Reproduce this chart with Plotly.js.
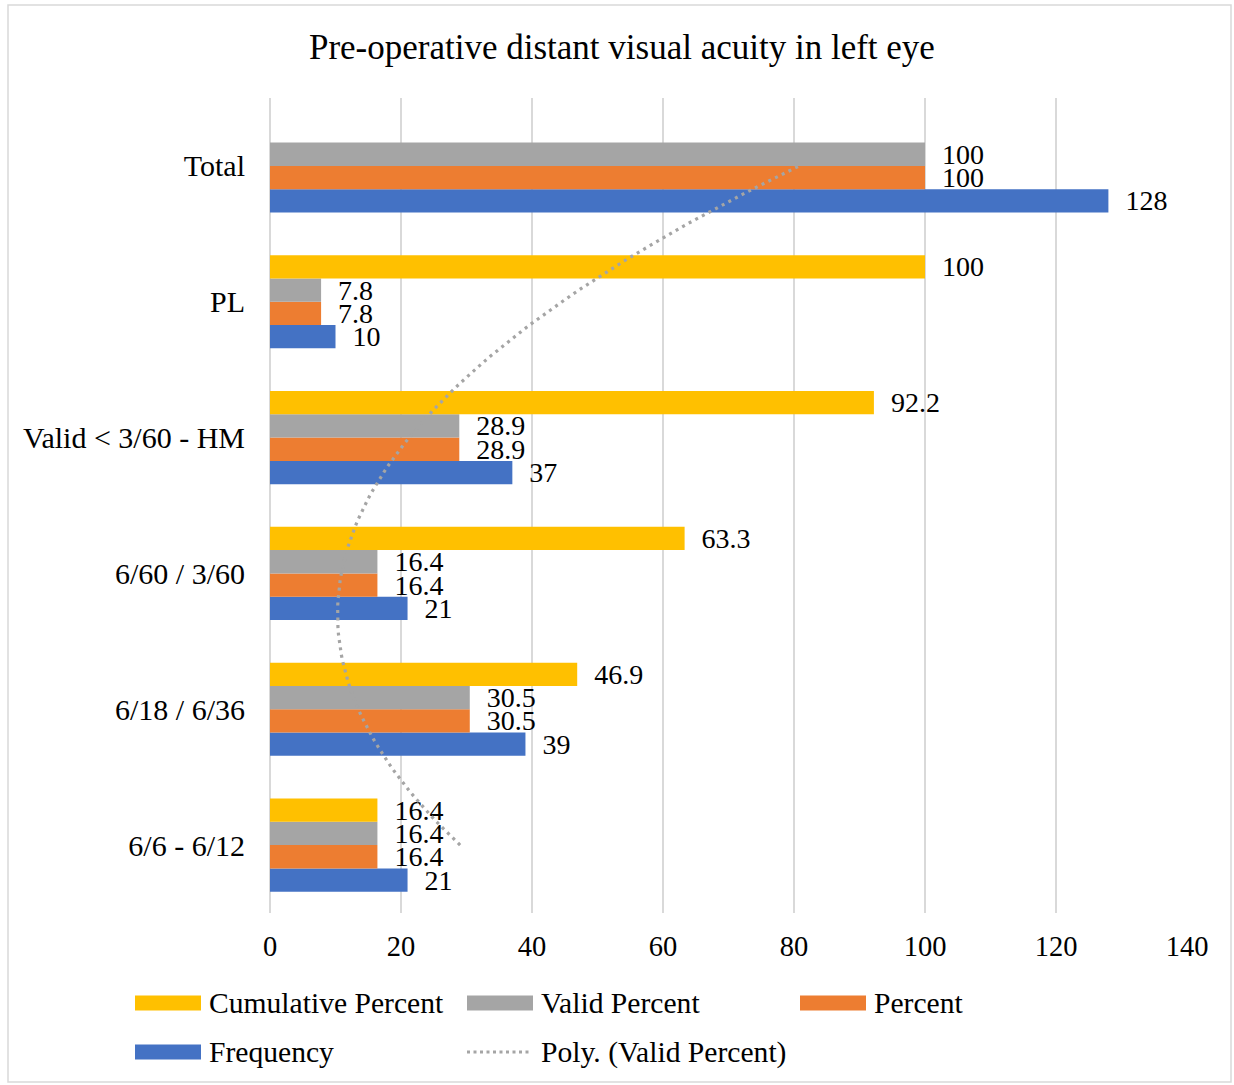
<!DOCTYPE html>
<html>
<head>
<meta charset="utf-8">
<script src="https://cdn.plot.ly/plotly-3.0.1.min.js"></script>
<style>
  html, body { margin: 0; padding: 0; background: #ffffff; }
  #chart { width: 1234px; height: 1085px; }
</style>
</head>
<body>
<div id="chart"></div>
<script>
// ---- Data ----
const categories = ["6/6 - 6/12", "6/18 / 6/36", "6/60 / 3/60", "Valid < 3/60 - HM", "PL", "Total"];
const frequency = [21, 39, 21, 37, 10, 128];
const percent = [16.4, 30.5, 16.4, 28.9, 7.8, 100];
const validPercent = [16.4, 30.5, 16.4, 28.9, 7.8, 100];
const cumulativePercent = [16.4, 46.9, 63.3, 92.2, 100, null];
const xTickVals = [0, 20, 40, 60, 80, 100, 120, 140];
const seriesNames = ["Cumulative Percent", "Valid Percent", "Percent", "Frequency", "Poly. (Valid Percent)"];

// ---- Styling ----
const FONT = "Liberation Serif, 'Times New Roman', serif";
const COLORS = { cum: "#FFC000", valid: "#A5A5A5", pct: "#ED7D31", freq: "#4472C4", trend: "#A5A5A5" };
const W = 1234, H = 1085;
const L = 270, R = 47, T = 98, B = 172;
const pw = W - L - R, ph = H - T - B;
const px = p => (p - L) / pw;
const py = q => (H - B - q) / ph;

// ---- Order-2 polynomial trendline of Valid Percent (least squares, Excel style) ----
function polyFit2(xs, ys) {
  let n = xs.length, s = [0,0,0,0,0], t = [0,0,0];
  for (let i = 0; i < n; i++) {
    const x = xs[i], y = ys[i];
    for (let k = 0; k < 5; k++) s[k] += Math.pow(x, k);
    for (let k = 0; k < 3; k++) t[k] += Math.pow(x, k) * y;
  }
  const M = [[s[0], s[1], s[2], t[0]], [s[1], s[2], s[3], t[1]], [s[2], s[3], s[4], t[2]]];
  for (let i = 0; i < 3; i++) {
    for (let j = i + 1; j < 3; j++) {
      const f = M[j][i] / M[i][i];
      for (let k = i; k < 4; k++) M[j][k] -= f * M[i][k];
    }
  }
  const c = [0, 0, 0];
  for (let i = 2; i >= 0; i--) {
    let v = M[i][3];
    for (let k = i + 1; k < 3; k++) v -= M[i][k] * c[k];
    c[i] = v / M[i][i];
  }
  return c;
}
const idx = categories.map((_, i) => i + 1);
const coef = polyFit2(idx, validPercent);
const trendY = [], trendX = [];
for (let k = 0; k <= 100; k++) {
  const yv = 1 + 5 * k / 100;
  trendY.push(yv);
  trendX.push(coef[0] + coef[1] * yv + coef[2] * yv * yv);
}

const lbl = '\u00A0\u00A0%{x}';
const textFont = { family: FONT, size: 28, color: "#000000" };
function barTrace(name, xs, color) {
  return {
    type: "bar", orientation: "h", name: name, x: xs, y: categories,
    marker: { color: color, line: { width: 0 } },
    texttemplate: lbl, textposition: "outside", cliponaxis: false,
    constraintext: "none", textfont: textFont, hoverinfo: "x+name",
    showlegend: false
  };
}

const data = [
  barTrace(seriesNames[3], frequency, COLORS.freq),
  barTrace(seriesNames[2], percent, COLORS.pct),
  barTrace(seriesNames[1], validPercent, COLORS.valid),
  barTrace(seriesNames[0], cumulativePercent, COLORS.cum),
  {
    type: "scatter", mode: "lines", name: seriesNames[4],
    x: trendX, y: trendY, yaxis: "y2",
    line: { color: COLORS.trend, width: 3.2, dash: "3px,4.5px" },
    hoverinfo: "skip", showlegend: false, cliponaxis: false
  }
];

// ---- Custom legend (wide swatches as in the reference) ----
const legendItems = [
  { name: seriesNames[0], color: COLORS.cum, x: 135, y: 1003, kind: "bar" },
  { name: seriesNames[1], color: COLORS.valid, x: 467, y: 1003, kind: "bar" },
  { name: seriesNames[2], color: COLORS.pct, x: 800, y: 1003, kind: "bar" },
  { name: seriesNames[3], color: COLORS.freq, x: 135, y: 1052, kind: "bar" },
  { name: seriesNames[4], color: COLORS.trend, x: 467, y: 1052, kind: "line" }
];
const shapes = [
  { type: "rect", xref: "paper", yref: "paper", x0: px(8), x1: px(1231), y0: py(5), y1: py(1082),
    line: { color: "#D9D9D9", width: 1.5 }, fillcolor: "rgba(0,0,0,0)", layer: "below" }
];
const annotations = [];
legendItems.forEach(it => {
  if (it.kind === "bar") {
    shapes.push({ type: "rect", xref: "paper", yref: "paper", x0: px(it.x), x1: px(it.x + 66),
      y0: py(it.y + 7.5), y1: py(it.y - 7.5), fillcolor: it.color, line: { width: 0 } });
  } else {
    shapes.push({ type: "line", xref: "paper", yref: "paper", x0: px(it.x), x1: px(it.x + 65),
      y0: py(it.y), y1: py(it.y), line: { color: it.color, width: 3, dash: "3px,3.5px" } });
  }
  annotations.push({ xref: "paper", yref: "paper", x: px(it.x + 72), y: py(it.y),
    xanchor: "left", yanchor: "middle", text: it.name, showarrow: false,
    font: { family: FONT, size: 29.6, color: "#000000" } });
});

const layout = {
  width: W, height: H,
  margin: { l: L, r: R, t: T, b: B, pad: 0 },
  paper_bgcolor: "#ffffff", plot_bgcolor: "#ffffff",
  font: { family: FONT, size: 28, color: "#000000" },
  title: { text: "Pre-operative distant visual acuity in left eye", x: 0.504, xref: "container",
    xanchor: "center", y: 1 - 47 / H, yref: "container", yanchor: "middle",
    font: { family: FONT, size: 35, color: "#000000" } },
  barmode: "group", bargap: 0.314, bargroupgap: 0,
  xaxis: {
    range: [0, 140], tickvals: xTickVals, showgrid: true, gridcolor: "#D9D9D9", gridwidth: 1.5,
    zeroline: true, zerolinecolor: "#D9D9D9", zerolinewidth: 1.5, showline: false,
    ticks: "", ticklabelstandoff: 13, tickfont: { family: FONT, size: 28.5, color: "#000000" },
    fixedrange: true
  },
  yaxis: {
    type: "category", categoryorder: "array", categoryarray: categories,
    range: [-0.5, 5.5], autorange: false, showgrid: false, zeroline: false, showline: false,
    ticks: "", ticklabelstandoff: 24, tickfont: { family: FONT, size: 30, color: "#000000" },
    fixedrange: true
  },
  yaxis2: { overlaying: "y", range: [0.5, 6.5], autorange: false, visible: false, fixedrange: true },
  showlegend: false,
  shapes: shapes,
  annotations: annotations
};

Plotly.newPlot("chart", data, layout, { displayModeBar: false, staticPlot: true });
</script>
</body>
</html>
